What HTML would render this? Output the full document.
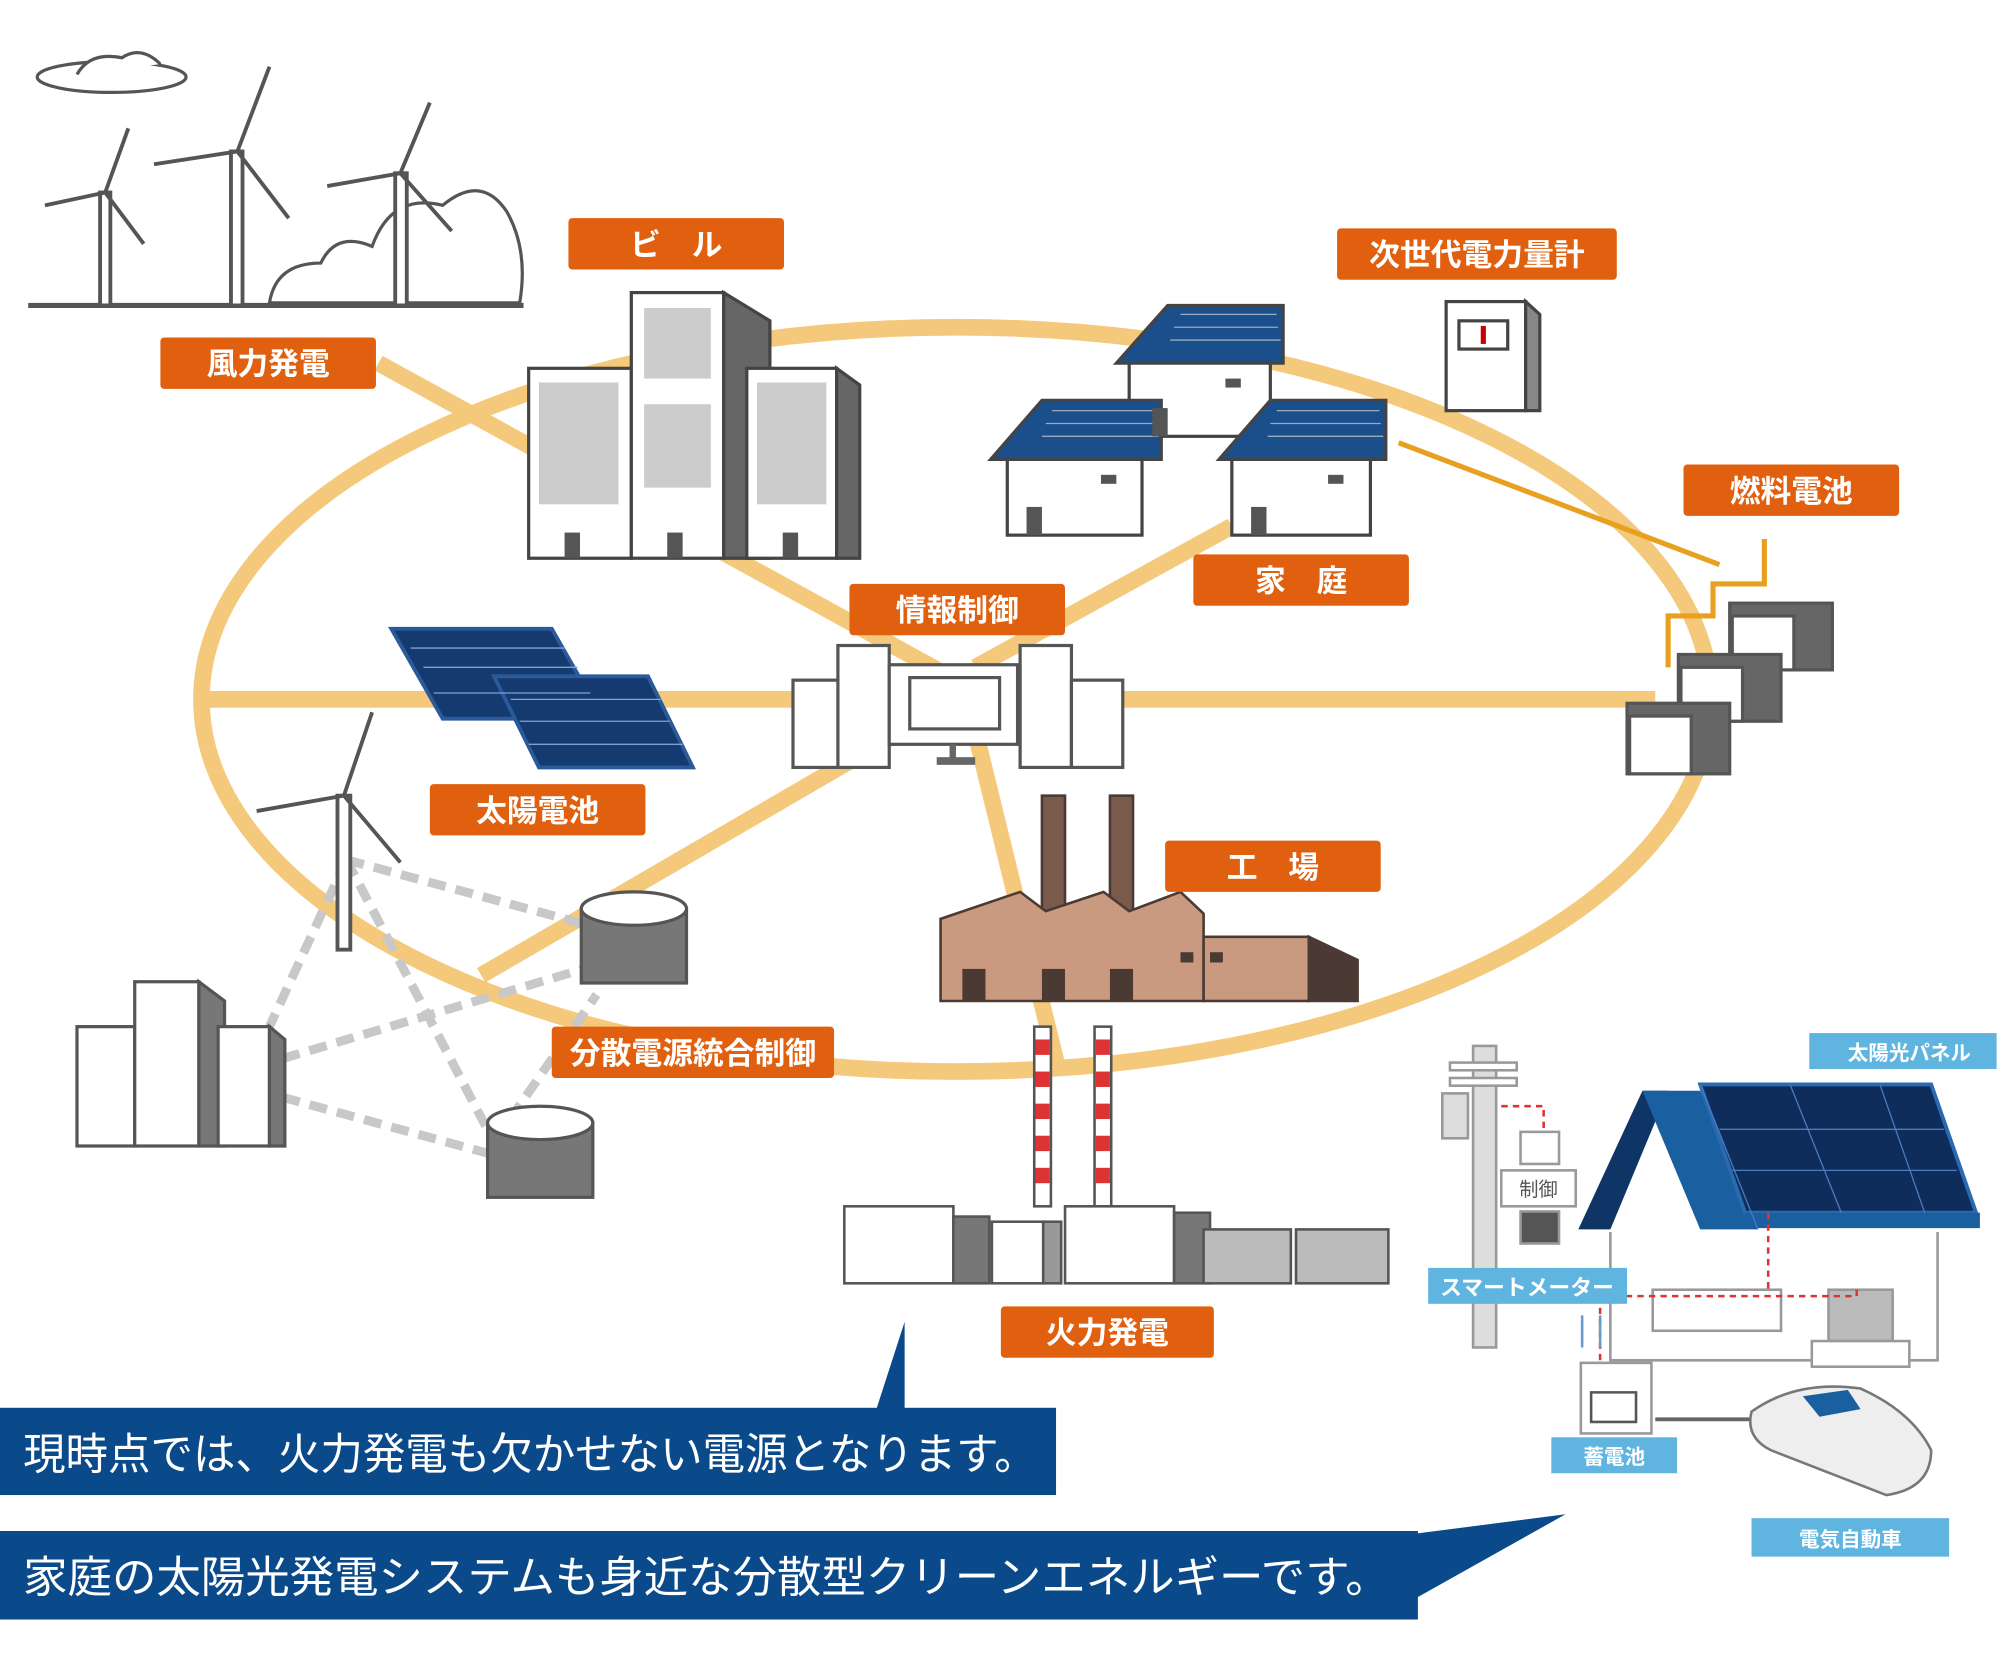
<!DOCTYPE html>
<html><head><meta charset="utf-8"><style>
html,body{margin:0;padding:0;background:#fff;}
svg{display:block;}
text{font-family:"Liberation Sans","Noto Sans CJK JP",sans-serif;}
</style></head><body>
<svg width="2012" height="1676" viewBox="0 0 1568 1306" preserveAspectRatio="none" xmlns="http://www.w3.org/2000/svg">
<rect width="1568" height="1306" fill="#fff"/>
<!-- network -->
<g stroke="#f5c97c" stroke-width="13" fill="none">
<ellipse cx="745" cy="545" rx="588" ry="290"/>
<line x1="295" y1="283" x2="745" y2="530"/>
<line x1="160" y1="545" x2="1290" y2="545"/>
<line x1="745" y1="545" x2="375" y2="760"/>
<line x1="760" y1="520" x2="960" y2="410"/>
<line x1="760" y1="570" x2="825" y2="835"/>
</g>
<path d="M1090 345 L1340 440" stroke="#e8a020" stroke-width="4" fill="none"/>
<path d="M1300 520 V480 H1335 V455 H1375 V420 M1335 480 V455" stroke="#e8a020" stroke-width="4" fill="none"/>
<!-- wind farm top-left -->
<g stroke="#555" stroke-width="2.5" fill="#fff">
<line x1="22" y1="238" x2="408" y2="238" stroke-width="4"/>
<path d="M210 236 Q215 205 250 205 Q262 180 290 192 Q305 150 345 160 Q375 135 395 165 Q412 195 405 236 Z"/>
<ellipse cx="87" cy="60" rx="58" ry="12"/>
<path d="M60 58 Q70 40 95 45 Q110 35 125 50"/>
</g>
<g stroke="#555" stroke-width="3" fill="#fff">
<rect x="78" y="150" width="8" height="88"/><path d="M82 150 L100 100 M82 150 L35 160 M82 150 L112 190"/>
<rect x="180" y="118" width="9" height="120"/><path d="M185 118 L210 52 M185 118 L120 128 M185 118 L225 170"/>
<rect x="308" y="135" width="9" height="103"/><path d="M312 135 L335 80 M312 135 L255 145 M312 135 L352 180"/>
</g>
<!-- Building -->
<g stroke="#444" stroke-width="2.5">
<rect x="412" y="287" width="80" height="148" fill="#fff"/>
<rect x="492" y="228" width="72" height="207" fill="#fff"/>
<polygon points="564,228 600,250 600,435 564,435" fill="#666"/>
<rect x="582" y="287" width="70" height="148" fill="#fff"/>
<polygon points="652,287 670,300 670,435 652,435" fill="#666"/>
</g>
<g fill="#aaa">
<rect x="420" y="298" width="62" height="95" opacity=".6"/>
<rect x="502" y="240" width="52" height="55" opacity=".6"/>
<rect x="502" y="315" width="52" height="65" opacity=".6"/>
<rect x="590" y="298" width="54" height="95" opacity=".6"/>
<rect x="440" y="415" width="12" height="20" fill="#555"/><rect x="520" y="415" width="12" height="20" fill="#555"/><rect x="610" y="415" width="12" height="20" fill="#555"/>
</g>
<!-- Houses -->
<g stroke="#444" stroke-width="2.5">
<rect x="880" y="280" width="110" height="60" fill="#fff"/>
<polygon points="870,283 910,238 1000,238 1000,283" fill="#1a4f8c"/>
<rect x="785" y="355" width="105" height="62" fill="#fff"/>
<polygon points="772,358 812,312 905,312 905,358" fill="#1a4f8c"/>
<rect x="960" y="355" width="108" height="62" fill="#fff"/>
<polygon points="950,358 990,312 1080,312 1080,358" fill="#1a4f8c"/>
<rect x="1127" y="235" width="62" height="85" fill="#fff"/>
<polygon points="1189,235 1200,245 1200,320 1189,320" fill="#888"/>
<rect x="1137" y="250" width="38" height="22" fill="#fff"/>
</g>
<rect x="1154" y="254" width="4" height="14" fill="#c00"/>
<g stroke="#9ab" stroke-width="1" fill="none">
<path d="M920 245 H995 M915 255 H996 M912 265 H998 M820 320 H900 M815 330 H901 M812 340 H903 M995 320 H1075 M990 330 H1076 M988 340 H1078"/>
</g>
<g fill="#555"><rect x="800" y="395" width="12" height="22"/><rect x="975" y="395" width="12" height="22"/><rect x="898" y="318" width="12" height="22"/>
<rect x="858" y="370" width="12" height="7"/><rect x="1035" y="370" width="12" height="7"/><rect x="955" y="295" width="12" height="7"/></g>
<!-- solar panels -->
<g stroke="#2a5a9a" stroke-width="3" fill="#143a70">
<polygon points="305,490 430,490 470,560 345,560"/>
<polygon points="385,527 505,527 540,598 420,598"/>
</g>
<g stroke="#7fa3d0" stroke-width="1">
<path d="M320 505 H440 M330 520 H450 M338 540 H460 M398 545 H515 M405 562 H522 M412 580 H532"/>
</g>
<!-- wind + dashed -->
<g stroke="#c8c8c8" stroke-width="7" stroke-dasharray="14 8" fill="none">
<path d="M270 670 L455 720 M270 670 L210 800 M270 670 L385 890 M220 825 L455 755 M220 855 L385 900 M385 890 L465 775"/>
</g>
<g stroke="#555" stroke-width="3" fill="#fff">
<rect x="263" y="620" width="10" height="120"/><path d="M268 620 L290 555 M268 620 L200 632 M268 620 L312 672"/>
</g>
<g stroke="#555" stroke-width="2.5">
<rect x="453" y="708" width="82" height="58" fill="#777"/><ellipse cx="494" cy="708" rx="41" ry="13" fill="#fff"/>
<rect x="380" y="875" width="82" height="58" fill="#777"/><ellipse cx="421" cy="875" rx="41" ry="13" fill="#fff"/>
<rect x="60" y="800" width="45" height="93" fill="#fff"/><rect x="105" y="765" width="50" height="128" fill="#fff"/>
<polygon points="155,765 175,780 175,893 155,893" fill="#777"/>
<rect x="170" y="800" width="40" height="93" fill="#fff"/><polygon points="210,800 222,810 222,893 210,893" fill="#777"/>
</g>
<!-- info control -->
<g stroke="#555" stroke-width="2.5" fill="#fff">
<rect x="618" y="530" width="38" height="68"/><rect x="653" y="503" width="40" height="95"/>
<rect x="693" y="518" width="100" height="62"/><rect x="709" y="528" width="70" height="40"/>
<rect x="795" y="503" width="40" height="95"/><rect x="835" y="530" width="40" height="68"/>
</g>
<rect x="740" y="580" width="5" height="12" fill="#666"/><rect x="730" y="590" width="30" height="6" fill="#666"/>
<!-- factory -->
<g stroke="#4a3a33" stroke-width="2">
<rect x="812" y="620" width="18" height="100" fill="#7a5a4a"/><rect x="865" y="620" width="18" height="100" fill="#7a5a4a"/>
<polygon points="733,716 795,695 815,710 860,695 880,710 920,695 938,712 938,780 733,780" fill="#c99a7f"/>
<rect x="938" y="730" width="82" height="50" fill="#c99a7f"/>
<polygon points="1020,730 1058,748 1058,780 1020,780" fill="#4a3a33"/>
</g>
<g fill="#4a3a33"><rect x="750" y="755" width="18" height="25"/><rect x="812" y="755" width="18" height="25"/><rect x="865" y="755" width="18" height="25"/><rect x="920" y="742" width="10" height="8"/><rect x="943" y="742" width="10" height="8"/></g>
<!-- fuel cells -->
<g stroke="#555" stroke-width="2.5">
<rect x="1348" y="470" width="80" height="52" fill="#666"/><rect x="1350" y="480" width="48" height="42" fill="#fff"/>
<rect x="1308" y="510" width="80" height="52" fill="#666"/><rect x="1310" y="520" width="48" height="42" fill="#fff"/>
<rect x="1268" y="548" width="80" height="55" fill="#666"/><rect x="1270" y="558" width="48" height="45" fill="#fff"/>
</g>
<!-- thermal power plant -->
<g stroke="#555" stroke-width="2">
<rect x="806" y="800" width="13" height="140" fill="#fff"/><rect x="853" y="800" width="13" height="140" fill="#fff"/>
</g>
<g fill="#d33"><rect x="807" y="810" width="11" height="12"/><rect x="807" y="835" width="11" height="12"/><rect x="807" y="860" width="11" height="12"/><rect x="807" y="885" width="11" height="12"/><rect x="807" y="910" width="11" height="12"/>
<rect x="854" y="810" width="11" height="12"/><rect x="854" y="835" width="11" height="12"/><rect x="854" y="860" width="11" height="12"/><rect x="854" y="885" width="11" height="12"/><rect x="854" y="910" width="11" height="12"/></g>
<g stroke="#555" stroke-width="2" fill="#fff">
<rect x="658" y="940" width="85" height="60"/><rect x="743" y="948" width="28" height="52" fill="#777"/>
<rect x="773" y="952" width="40" height="48"/><rect x="813" y="952" width="14" height="48" fill="#999"/>
<rect x="830" y="940" width="85" height="60"/><rect x="915" y="945" width="28" height="55" fill="#777"/>
<rect x="938" y="958" width="68" height="42" fill="#bbb"/><rect x="1010" y="958" width="72" height="42" fill="#bbb"/>
</g>
<!-- Orange labels -->
<g fill="#e0600f">
<rect x="443" y="170" width="168" height="40" rx="3"/>
<rect x="125" y="263" width="168" height="40" rx="3"/>
<rect x="1042" y="178" width="218" height="40" rx="3"/>
<rect x="1312" y="362" width="168" height="40" rx="3"/>
<rect x="930" y="432" width="168" height="40" rx="3"/>
<rect x="662" y="455" width="168" height="40" rx="3"/>
<rect x="335" y="611" width="168" height="40" rx="3"/>
<rect x="908" y="655" width="168" height="40" rx="3"/>
<rect x="430" y="800" width="220" height="40" rx="3"/>
<rect x="780" y="1018" width="166" height="40" rx="3"/>
</g>
<g fill="#fff" font-size="24" font-weight="bold" text-anchor="middle">
<text x="527" y="199">ビ　ル</text>
<text x="209" y="292">風力発電</text>
<text x="1151" y="207">次世代電力量計</text>
<text x="1396" y="391">燃料電池</text>
<text x="1014" y="461">家　庭</text>
<text x="746" y="484">情報制御</text>
<text x="419" y="640">太陽電池</text>
<text x="992" y="684">工　場</text>
<text x="540" y="829">分散電源統合制御</text>
<text x="863" y="1047">火力発電</text>
</g>
<!-- smart house -->
<rect x="1410" y="805" width="146" height="28" fill="#5fb4e0"/>
<text x="1488" y="826" fill="#fff" font-size="16" font-weight="bold" text-anchor="middle">太陽光パネル</text>
<g stroke="#999" stroke-width="2" fill="#fff">
<rect x="1148" y="815" width="18" height="235" fill="#ddd"/>
<rect x="1130" y="828" width="52" height="6"/><rect x="1130" y="840" width="52" height="6"/>
<rect x="1124" y="852" width="20" height="35" fill="#ddd"/>
<polyline points="1255,960 1255,1060 1510,1060 1510,960" fill="none"/>
<rect x="1185" y="882" width="30" height="25" fill="#fff"/><rect x="1170" y="912" width="58" height="28"/><rect x="1185" y="944" width="30" height="25" fill="#555"/>
<rect x="1288" y="1005" width="100" height="32"/><rect x="1425" y="1005" width="50" height="40" fill="#bbb"/><rect x="1412" y="1045" width="76" height="20"/>
<rect x="1232" y="1062" width="55" height="55"/>
</g>
<polygon points="1230,958 1280,850 1300,850 1255,958" fill="#0f3566"/>
<polygon points="1280,850 1325,850 1370,958 1325,958" fill="#1a5fa0"/>
<polygon points="1325,845 1505,845 1540,945 1360,945" fill="#0f2d5a" stroke="#2a6ab0" stroke-width="3"/>
<rect x="1360" y="945" width="183" height="12" fill="#1a5fa0"/>
<g stroke="#d33" stroke-width="2" stroke-dasharray="5 4" fill="none"><path d="M1170 862 H1203 V882 M1203 1002 V1010 H1447 V1005 M1378 945 V1005 M1247 1010 V1062"/></g>
<path d="M1325 845 L1370 958 M1395 845 L1435 945 M1465 845 L1500 945 M1340 880 H1515 M1350 912 H1525" stroke="#4a7cc0" stroke-width="1" fill="none"/>
<rect x="1113" y="988" width="155" height="28" fill="#5fb4e0"/>
<text x="1190" y="1009" fill="#fff" font-size="17" font-weight="bold" text-anchor="middle">スマートメーター</text>
<text x="1199" y="932" fill="#555" font-size="15" text-anchor="middle">制御</text>
<path d="M1233 1025 V1050 M1247 1050 V1025" stroke="#6a9ac8" stroke-width="2"/>
<path d="M1240 1085 H1275 V1108 H1240 Z" fill="#fff" stroke="#555" stroke-width="2"/>
<path d="M1290 1106 H1370" stroke="#666" stroke-width="3"/>
<path d="M1365 1100 Q1400 1075 1450 1082 Q1490 1100 1505 1130 Q1505 1160 1470 1165 L1380 1130 Q1360 1120 1365 1100 Z" fill="#eee" stroke="#777" stroke-width="2"/>
<path d="M1405 1088 L1440 1083 L1450 1098 L1418 1104 Z" fill="#1a5fa0"/>
<rect x="1209" y="1120" width="98" height="28" fill="#5fb4e0"/>
<text x="1258" y="1141" fill="#fff" font-size="16" font-weight="bold" text-anchor="middle">蓄電池</text>
<rect x="1365" y="1183" width="154" height="30" fill="#5fb4e0"/>
<text x="1442" y="1205" fill="#fff" font-size="16" font-weight="bold" text-anchor="middle">電気自動車</text>
<!-- banners -->
<g fill="#0b4a8a">
<rect x="0" y="1097" width="823" height="68"/>
<polygon points="683,1098 705,1030 705,1098"/>
<rect x="0" y="1193" width="1105" height="69"/>
<polygon points="1104,1195 1220,1180 1104,1245"/>
</g>
<text x="18" y="1145" fill="#fff" font-size="34" textLength="790" lengthAdjust="spacingAndGlyphs">現時点では、火力発電も欠かせない電源となります。</text>
<text x="18" y="1241" fill="#fff" font-size="34" textLength="1065" lengthAdjust="spacingAndGlyphs">家庭の太陽光発電システムも身近な分散型クリーンエネルギーです。</text>
</svg>
</body></html>
